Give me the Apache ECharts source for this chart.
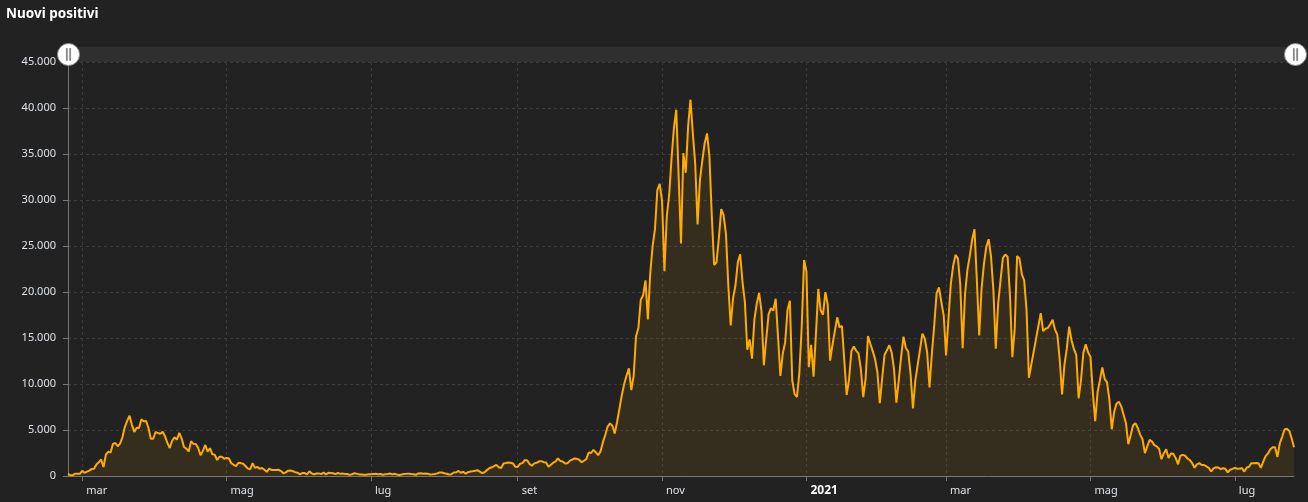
<!DOCTYPE html>
<html>
<head>
<meta charset="utf-8">
<script src="https://cdn.jsdelivr.net/npm/echarts@6/dist/echarts.min.js"></script>
<style>
  html, body { margin: 0; padding: 0; background: #222222; }
  #chart { width: 1308px; height: 502px; }
</style>
</head>
<body>
<div id="chart"></div>
<script>
// nuovi positivi giornalieri, dal 24 febbraio 2020
var feb2020 = [221, 93, 78, 250, 238, 240];
var mar2020 = [566, 342, 466, 587, 769, 778, 1247, 1492, 1797, 977, 2313, 2651, 2547, 3497, 3590, 3233, 3526, 4207, 5322, 5986, 6557, 5560, 4789, 5249, 5210, 6153, 5959, 5974, 5217, 4050, 4053];
var apr2020 = [4782, 4668, 4585, 4805, 4316, 3599, 3039, 3836, 4204, 3951, 4694, 4092, 3153, 2972, 2667, 3786, 3493, 3491, 3047, 2256, 2729, 3370, 2646, 3021, 2357, 2324, 1739, 2091, 2086, 1872];
var mag2020 = [1965, 1900, 1389, 1221, 1075, 1444, 1401, 1327, 1083, 802, 744, 1402, 888, 992, 789, 875, 675, 451, 813, 665, 642, 652, 669, 531, 300, 397, 584, 593, 516, 416, 355];
var giu2020 = [178, 318, 321, 177, 518, 270, 197, 280, 283, 202, 379, 163, 346, 338, 301, 210, 328, 251, 262, 224, 218, 122, 190, 296, 259, 175, 174, 126, 142, 187];
var lug2020 = [201, 223, 235, 192, 208, 138, 193, 229, 276, 188, 234, 169, 114, 163, 230, 233, 249, 219, 190, 129, 282, 306, 252, 275, 255, 170, 181, 212, 289, 386, 379];
var ago2020 = [295, 239, 159, 190, 384, 402, 552, 347, 463, 259, 412, 481, 523, 574, 629, 479, 320, 403, 642, 845, 947, 1071, 1210, 953, 878, 1367, 1411, 1462, 1444, 1365, 996];
var set2020 = [978, 1326, 1397, 1733, 1695, 1297, 1108, 1370, 1434, 1597, 1616, 1501, 1458, 1008, 1229, 1452, 1585, 1907, 1638, 1587, 1350, 1392, 1640, 1786, 1912, 1869, 1766, 1494, 1648, 1851];
var ott2020 = [2548, 2499, 2844, 2578, 2257, 2677, 3678, 4458, 5372, 5724, 5456, 4619, 5901, 7332, 8804, 10010, 10925, 11705, 9338, 10874, 15199, 16079, 19143, 19644, 21273, 17012, 21994, 24991, 26831, 31084, 31758];
var nov2020 = [29907, 22253, 28244, 30550, 34505, 37809, 39811, 32616, 25271, 35098, 32961, 37978, 40902, 37255, 33979, 27354, 32191, 34283, 36176, 37242, 34767, 28337, 22930, 23232, 25853, 29003, 28352, 26323, 20648, 16377];
var dic2020 = [19350, 20709, 23225, 24099, 21052, 18887, 13720, 14842, 12756, 16999, 18727, 19903, 17938, 12030, 14844, 17572, 18236, 17992, 19263, 15104, 10872, 13318, 14522, 18040, 19037, 10407, 8913, 8585, 11212, 16202, 23477];
var gen2021 = [22211, 11831, 14245, 10800, 15378, 20331, 18020, 17533, 19978, 18627, 12532, 14242, 15774, 17246, 16146, 16310, 12545, 8824, 10497, 13571, 14078, 13633, 13331, 11629, 8561, 10593, 15204, 14372, 13574, 12715, 11252];
var feb2021 = [7925, 10630, 13189, 13659, 14218, 13442, 11641, 7970, 10404, 12956, 15146, 13908, 13532, 11068, 7351, 10386, 12074, 13762, 15479, 14931, 13452, 9630, 13314, 16424, 19886, 20499, 18916, 17455];
var mar2021 = [13114, 17083, 20884, 22865, 24036, 23641, 20765, 13902, 19749, 22409, 23900, 25673, 26824, 21315, 15267, 20396, 23059, 24935, 25735, 23832, 20159, 13846, 18765, 21267, 23696, 24076, 23839, 19611, 12916, 16017, 23904];
var apr2021 = [23649, 21932, 21261, 18025, 10680, 12100, 13500, 14900, 16300, 17700, 15746, 16000, 16100, 16500, 16974, 15943, 15370, 12694, 8864, 12074, 13844, 16232, 14761, 13817, 13158, 8444, 10404, 13385, 14320, 13446];
var mag2021 = [12965, 9148, 5948, 9116, 10404, 11807, 10554, 10176, 8292, 5080, 6946, 7852, 8085, 7567, 6659, 5753, 3455, 4452, 5506, 5741, 5218, 4500, 3995, 2490, 3224, 3937, 3738, 3351, 3220, 2949, 1820];
var giu2021 = [2483, 2897, 1968, 2436, 2410, 1963, 1273, 2199, 2300, 2200, 1900, 1723, 1390, 907, 1255, 1400, 1197, 1197, 1040, 881, 495, 835, 951, 927, 753, 838, 778, 389, 679, 776];
var lug2021 = [882, 794, 808, 852, 480, 907, 1010, 1394, 1390, 1400, 1391, 888, 1553, 2153, 2455, 2898, 3121, 3127, 2072, 3558, 4259, 5057, 5143, 4900, 4100, 3117];

var mesi = ['gen', 'feb', 'mar', 'apr', 'mag', 'giu', 'lug', 'ago', 'set', 'ott', 'nov', 'dic'];
var yTicks = { min: 0, max: 45000, step: 5000 };

var valori = [].concat(feb2020, mar2020, apr2020, mag2020, giu2020, lug2020, ago2020, set2020,
    ott2020, nov2020, dic2020, gen2021, feb2021, mar2021, apr2021, mag2021, giu2021, lug2021);

var giorni = [];
var d = new Date(Date.UTC(2020, 1, 24));
for (var i = 0; i < valori.length; i++) {
    giorni.push(d.toISOString().slice(0, 10));
    d.setUTCDate(d.getUTCDate() + 1);
}

// tacche solo il primo dei mesi dispari
function isMark(idx, val) {
    return val.slice(8) === '01' && parseInt(val.slice(5, 7), 10) % 2 === 1;
}

function migliaia(v) {
    return String(v).replace(/\B(?=(\d{3})+(?!\d))/g, '.');
}

var myChart = echarts.init(document.getElementById('chart'));
var handle = 'path://M-10,0 A10,10,0,1,1,10,0 A10,10,0,1,1,-10,0 Z M-1.9,-5.5 L-1.9,5.5 L-1.2,5.5 L-1.2,-5.5 Z M1.2,-5.5 L1.2,5.5 L1.9,5.5 L1.9,-5.5 Z';

var option = {
    backgroundColor: '#222222',
    animation: false,
    title: {
        text: 'Nuovi positivi',
        left: 1,
        top: 2,
        textStyle: { color: '#ffffff', fontSize: 13.5, fontWeight: 'bold', fontFamily: 'Noto Sans' }
    },
    grid: { left: 68, right: 14, top: 62, bottom: 26 },
    dataZoom: [{
        type: 'slider',
        xAxisIndex: 0,
        filterMode: 'none',
        start: 0,
        end: 100,
        top: 47,
        height: 15,
        left: 66,
        right: 13,
        showDetail: false,
        showDataShadow: false,
        brushSelect: false,
        moveHandleSize: 0,
        backgroundColor: '#2d2d2d',
        borderColor: 'transparent',
        fillerColor: 'rgba(255,255,255,0.01)',
        handleIcon: handle,
        handleSize: 22,
        handleStyle: { color: '#ffffff', borderColor: '#8a8a8a', borderWidth: 1 },
        emphasis: { handleStyle: { color: '#ffffff', borderColor: '#8a8a8a' } }
    }],
    xAxis: {
        type: 'category',
        data: giorni,
        boundaryGap: false,
        axisLine: { lineStyle: { color: '#777777', width: 1 } },
        axisTick: { show: true, interval: isMark, length: 5, lineStyle: { color: '#777777' } },
        splitLine: { show: true, interval: isMark, lineStyle: { color: '#3c3c3c', type: [3, 3] } },
        axisLabel: {
            interval: isMark,
            align: 'left',
            padding: [0, 0, 0, 4],
            margin: 9,
            color: '#dde3ea',
            fontSize: 11,
            fontFamily: 'Noto Sans',
            formatter: function (val) {
                var m = parseInt(val.slice(5, 7), 10);
                if (m === 1) return '{b|' + val.slice(0, 4) + '}';
                return mesi[m - 1];
            },
            rich: { b: { color: '#ffffff', fontWeight: 'bold', fontSize: 12, fontFamily: 'Noto Sans' } }
        }
    },
    yAxis: {
        type: 'value',
        min: yTicks.min,
        max: yTicks.max,
        interval: yTicks.step,
        axisLine: { show: true, lineStyle: { color: '#777777' } },
        axisTick: { show: true, length: 5, lineStyle: { color: '#777777' } },
        splitLine: { lineStyle: { color: '#3c3c3c', type: [3, 3] } },
        axisLabel: {
            margin: 12,
            color: '#dde3ea',
            fontSize: 11,
            fontFamily: 'Noto Sans',
            formatter: migliaia
        }
    },
    series: [{
        name: 'Nuovi positivi',
        type: 'line',
        data: valori,
        symbol: 'none',
        lineStyle: { color: '#ffab00', width: 2 },
        areaStyle: { color: 'rgba(255,171,0,0.12)' }
    }]
};

option && myChart.setOption(option);
</script>
</body>
</html>
